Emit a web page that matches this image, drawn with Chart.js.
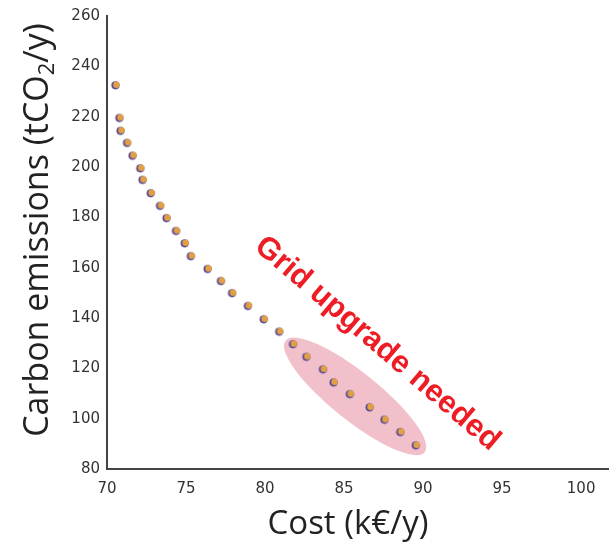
<!DOCTYPE html>
<html>
<head>
<meta charset="utf-8">
<script src="https://cdn.jsdelivr.net/npm/chart.js@4.4.0/dist/chart.umd.min.js"></script>
<style>
  html, body { margin: 0; padding: 0; background: #fff; }
  #wrap { width: 614px; height: 546px; position: relative; }
</style>
</head>
<body>
<div id="wrap"><canvas id="pareto-chart"></canvas></div>
<script>
// pareto front: cost (k€/y) vs carbon emissions (tCO2/y)
const costs = [70.56, 70.81, 70.88, 71.29, 71.64, 72.13, 72.27, 72.79, 73.38, 73.79,
               74.39, 74.94, 75.33, 76.39, 77.23, 77.94, 78.94, 79.94, 80.92, 81.79,
               82.64, 83.69, 84.36, 85.39, 86.64, 87.58, 88.58, 89.56];
const emissions = [232.6, 219.6, 214.5, 209.7, 204.6, 199.6, 195.0, 189.7, 184.7, 179.8,
                   174.7, 169.8, 164.7, 159.6, 154.8, 150.0, 144.9, 139.6, 134.7, 129.7,
                   124.7, 119.7, 114.5, 109.9, 104.6, 99.7, 94.8, 89.5];
const xTicks = [70, 75, 80, 85, 90, 95, 100];
const yTicks = [80, 100, 120, 140, 160, 180, 200, 220, 240, 260];

// highlighted region (ends of the ellipse's long axis, in data units)
const zoneFrom = [81.3, 131.0];
const zoneTo = [90.1, 86.7];
const zoneLabel = 'Grid upgrade needed';
const zoneLabelAt = [87.1, 129.8];

const xTitleFont = '33px "Open Sans", Lato, sans-serif';
const yTitleFont = '34px "Open Sans", Lato, sans-serif';
const ySubFont = '22px "Open Sans", Lato, sans-serif';

function makeDot() {
  const c = document.createElement('canvas');
  c.width = 12; c.height = 12;
  const g = c.getContext('2d');
  g.fillStyle = '#5b4b96';
  g.beginPath(); g.arc(5.6, 6.3, 4.1, 0, Math.PI * 2); g.fill();
  g.fillStyle = '#e3a043';
  g.beginPath(); g.arc(6.5, 5.7, 3.2, 0, Math.PI * 2); g.fill();
  return c;
}

const overlay = {
  id: 'overlay',
  beforeDatasetsDraw(chart) {
    const {ctx, scales: {x, y}} = chart;
    const x1 = x.getPixelForValue(zoneFrom[0]), y1 = y.getPixelForValue(zoneFrom[1]);
    const x2 = x.getPixelForValue(zoneTo[0]), y2 = y.getPixelForValue(zoneTo[1]);
    ctx.save();
    ctx.fillStyle = 'rgba(230, 140, 160, 0.55)';
    ctx.beginPath();
    ctx.ellipse((x1 + x2) / 2, (y1 + y2) / 2, Math.hypot(x2 - x1, y2 - y1) / 2, 24,
                Math.atan2(y2 - y1, x2 - x1), 0, Math.PI * 2);
    ctx.fill();
    ctx.restore();
  },
  afterDatasetsDraw(chart) {
    const {ctx, scales: {x, y}} = chart;
    ctx.save();
    ctx.translate(x.getPixelForValue(zoneLabelAt[0]), y.getPixelForValue(zoneLabelAt[1]));
    ctx.rotate(40.6 * Math.PI / 180);
    ctx.font = 'bold 31px "Liberation Sans", Arial, sans-serif';
    ctx.fillStyle = '#ee1c25';
    ctx.textAlign = 'center';
    ctx.textBaseline = 'middle';
    ctx.fillText(zoneLabel, 0, 0);
    ctx.restore();
  },
  afterDraw(chart) {
    const {ctx} = chart;
    ctx.save();
    ctx.fillStyle = '#222';
    ctx.font = xTitleFont;
    ctx.textAlign = 'center';
    ctx.textBaseline = 'alphabetic';
    ctx.fillText('Cost (k€/y)', 348, 534);

    // y title with a real subscript 2
    const parts = ['Carbon emissions (tCO', '2', '/y)'];
    ctx.font = yTitleFont;
    const w0 = ctx.measureText(parts[0]).width;
    const w2 = ctx.measureText(parts[2]).width;
    ctx.font = ySubFont;
    const w1 = ctx.measureText(parts[1]).width;
    const total = w0 + w1 + w2;
    ctx.translate(48, 230);
    ctx.rotate(-Math.PI / 2);
    ctx.textAlign = 'left';
    let px = -total / 2;
    ctx.font = yTitleFont;
    ctx.fillText(parts[0], px, 0);
    px += w0;
    ctx.font = ySubFont;
    ctx.fillText(parts[1], px, 6);
    px += w1;
    ctx.font = yTitleFont;
    ctx.fillText(parts[2], px, 0);
    ctx.restore();
  }
};

const tickFont = { family: '"DejaVu Sans", sans-serif', size: 15 };

new Chart(document.getElementById('pareto-chart'), {
  type: 'scatter',
  data: {
    datasets: [{
      label: 'Pareto front',
      data: costs.map((c, i) => ({ x: c, y: emissions[i] })),
      pointStyle: makeDot(),
      pointRadius: 5,
      showLine: false
    }]
  },
  options: {
    responsive: true,
    maintainAspectRatio: false,
    animation: false,
    layout: { padding: { top: 14, left: 0, right: 0, bottom: 0 } },
    plugins: {
      legend: { display: false },
      tooltip: { enabled: false }
    },
    scales: {
      x: {
        type: 'linear',
        min: 70,
        max: 101.7,
        afterBuildTicks: (s) => { s.ticks = xTicks.map(v => ({ value: v })); },
        afterFit: (s) => { s.height = 77; },
        grid: { display: false, drawTicks: false },
        border: { display: true, color: '#444', width: 2 },
        ticks: { font: tickFont, color: '#333', padding: 11, maxRotation: 0 }
      },
      y: {
        min: 80,
        max: 260,
        afterBuildTicks: (s) => { s.ticks = yTicks.map(v => ({ value: v })); },
        afterFit: (s) => { s.width = 107; },
        grid: { display: false, drawTicks: false },
        border: { display: true, color: '#444', width: 2 },
        ticks: { font: tickFont, color: '#333', padding: 7 }
      }
    }
  },
  plugins: [overlay]
});
</script>
</body>
</html>
